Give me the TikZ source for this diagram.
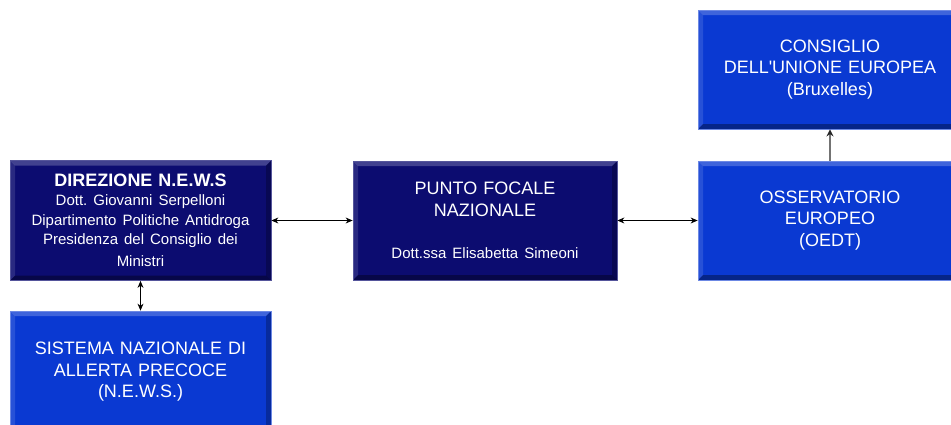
\documentclass[tikz,border=0pt]{standalone}
\usepackage{fontspec}
\setmainfont{Liberation Sans}
\usetikzlibrary{arrows.meta}
\definecolor{navy}{RGB}{12,12,112}
\definecolor{bblue}{RGB}{10,57,210}
\frenchspacing
\tikzset{
  bevel/.style={
    path picture={
      \fill[white,opacity=0.22] (path picture bounding box.north west) -- (path picture bounding box.north east)
        -- ([xshift=-5pt,yshift=-5pt]path picture bounding box.north east) -- ([xshift=5pt,yshift=-5pt]path picture bounding box.north west) -- cycle;
      \fill[white,opacity=0.12] (path picture bounding box.north west) -- (path picture bounding box.south west)
        -- ([xshift=5pt,yshift=5pt]path picture bounding box.south west) -- ([xshift=5pt,yshift=-5pt]path picture bounding box.north west) -- cycle;
      \fill[black,opacity=0.35] (path picture bounding box.south west) -- (path picture bounding box.south east)
        -- ([xshift=-5pt,yshift=5pt]path picture bounding box.south east) -- ([xshift=5pt,yshift=5pt]path picture bounding box.south west) -- cycle;
      \fill[black,opacity=0.25] (path picture bounding box.north east) -- (path picture bounding box.south east)
        -- ([xshift=-5pt,yshift=5pt]path picture bounding box.south east) -- ([xshift=-5pt,yshift=-5pt]path picture bounding box.north east) -- cycle;
    }},
  boxbase/.style={rectangle, inner sep=0pt, align=center, text=white, bevel,
    font=\fontsize{18}{21.5}\selectfont},
  darkbox/.style={boxbase, fill=navy, draw=navy!70!white, line width=0.8pt},
  bluebox/.style={boxbase, fill=bblue, draw=bblue!60!white, line width=0.8pt},
  conn/.style={line width=0.9pt, {Stealth[length=7pt,width=6pt]}-{Stealth[length=7pt,width=6pt]}},
  upconn/.style={line width=1.6pt, draw=black!55, -{Stealth[length=7pt,width=7pt,color=black!85]}}
}
\begin{document}
\begin{tikzpicture}[x=1pt,y=-1pt]
\clip (0,0) rectangle (951,424);
\fill[white] (0,0) rectangle (951,424);

\node[darkbox, minimum width=261pt, minimum height=120pt, text width=255pt] (dir) at (140.5,220.5)
  {{\bfseries DIREZIONE N.E.W.S}\\[-0.5pt]
   {\fontsize{15}{19.5}\selectfont Dott. Giovanni Serpelloni\\ Dipartimento Politiche Antidroga\\ Presidenza del Consiglio dei\\ Ministri}};

\node[bluebox, minimum width=261pt, minimum height=122pt, text width=255pt] (sis) at (140.5,372)
  {SISTEMA NAZIONALE DI\\ ALLERTA PRECOCE\\ (N.E.W.S.)};

\node[darkbox, minimum width=264pt, minimum height=119pt, text width=255pt] (pun) at (485,220.5)
  {PUNTO FOCALE\\ NAZIONALE\\[21pt] {\fontsize{15}{19.5}\selectfont Dott.ssa Elisabetta Simeoni}};

\node[bluebox, minimum width=264pt, minimum height=119pt, text width=255pt] (con) at (830,69.5)
  {CONSIGLIO\\ DELL\textquotesingle UNIONE EUROPEA\\ (Bruxelles)};

\node[bluebox, minimum width=264pt, minimum height=119pt, text width=255pt] (oss) at (830,220.5)
  {OSSERVATORIO\\ EUROPEO\\ (OEDT)};

\draw[conn] (dir.east) -- (pun.west);
\draw[conn] (pun.east) -- (oss.west);
\draw[conn] (dir.south) -- (sis.north);
\draw[upconn] (oss.north) -- (con.south);
\end{tikzpicture}
\end{document}
